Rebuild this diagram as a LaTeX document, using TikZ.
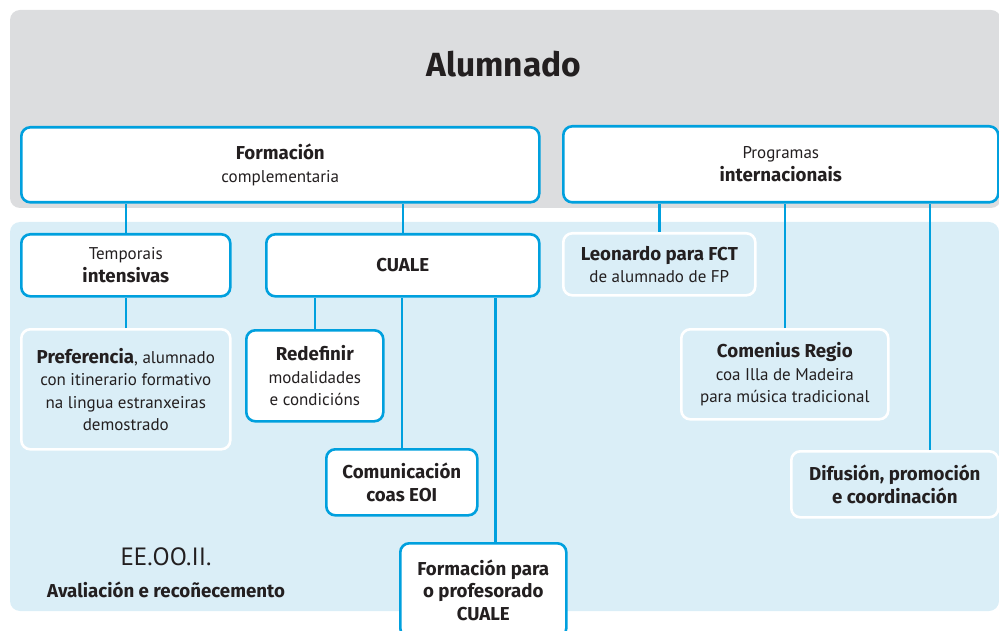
\documentclass[tikz,border=0pt]{standalone}
\usepackage{fontspec}
\setmainfont{PT Sans}[BoldFont={Fira Sans Bold}]
\usetikzlibrary{positioning}
\definecolor{linecolor}{RGB}{0,160,222}
\definecolor{topcolor}{RGB}{220,221,223}
\definecolor{areacolor}{RGB}{218,238,247}
\definecolor{textcolor}{RGB}{35,31,32}
\newcommand{\hd}[1]{{\fontsize{18.7}{22.5}\selectfont\bfseries #1}}

\begin{document}
\begin{tikzpicture}[%
    x=1pt, y=-1pt,              % pixel units, top-down
    font=\fontsize{17}{22.5}\selectfont,
    text=textcolor,             % dark text everywhere
    node distance=9pt,
    ]
\tikzset{
  base/.style={anchor=north west, align=center, inner sep=0pt, rounded corners=9pt, line width=2.6pt},
  blk/.style={base, draw=linecolor, fill=white},
  soft/.style={base, draw=white, fill=areacolor},
  link/.style={draw=linecolor, line width=2.6pt},
}
\useasboundingbox (0,0) rectangle (999,631);
\clip (0,0) rectangle (999,631);

% background areas
\fill [topcolor, rounded corners=10pt] (10,10) rectangle (1001,208);
\fill [areacolor, rounded corners=10pt] (10,222) rectangle (999,611);

\node [font=\fontsize{33.5}{40}\selectfont\bfseries] (alum) at (504,64) {Alumnado};

\node [blk, minimum width=518pt, minimum height=75pt] (form) at (20,126) {\hd{Formación}\\complementaria};
\node [blk, minimum width=435pt, minimum height=76pt] (prog) at (562,125) {Programas\\\hd{internacionais}};

\node [blk, minimum width=209pt, minimum height=62pt] (temp) at (20,233) {Temporais\\\hd{intensivas}};
\node [blk, minimum width=273pt, minimum height=62pt] (cuale) at (265,233) {\hd{CUALE}};
\node [soft, minimum width=192pt, minimum height=62pt] (leo) at (562,232) {\hd{Leonardo para FCT}\\de alumnado de FP};

\node [soft, minimum width=209pt, minimum height=120pt] (pref) at (20,328) {\hd{Preferencia}, alumnado\\con itinerario formativo\\na lingua estranxeiras\\demostrado};
\node [blk, minimum width=137pt, minimum height=91pt] (redef) at (245,329) {\hd{Redefinir}\\modalidades\\e condicións};
\node [blk, minimum width=151pt, minimum height=66pt] (comu) at (325,448) {\hd{Comunicación}\\\hd{coas EOI}};
\node [blk, minimum width=166pt, minimum height=94pt] (prof) at (399,542) {\hd{Formación para}\\\hd{o profesorado}\\\hd{CUALE}};

\node [soft, minimum width=207pt, minimum height=90pt] (come) at (680,328) {\hd{Comenius Regio}\\coa Illa de Madeira\\para música tradicional};
\node [soft, minimum width=207pt, minimum height=66pt] (dif) at (790,450) {\hd{Difusión, promoción}\\\hd{e coordinación}};

\node [font=\fontsize{25}{28}\selectfont] (eeoo) at (166,557) {EE.OO.II.};
\node [below=of eeoo] (aval) {\hd{Avaliación e recoñecemento}};

\draw [link] (temp.north) -- (temp.north |- form.south);
\draw [link] (cuale.north) -- (cuale.north |- form.south);
\draw [link] (pref.north) -- (pref.north |- temp.south);
\draw [link] (redef.north) -- (redef.north |- cuale.south);
\draw [link] (comu.north) -- (comu.north |- cuale.south);
\draw [link] ([xshift=12pt]prof.north) -- ([xshift=12pt]prof.north |- cuale.south);
\draw [link] (leo.north) -- (leo.north |- prog.south);
\draw [link] (come.north) -- (come.north |- prog.south);
\draw [link] ([xshift=35pt]dif.north) -- ([xshift=35pt]dif.north |- prog.south);

\end{tikzpicture}
\end{document}
